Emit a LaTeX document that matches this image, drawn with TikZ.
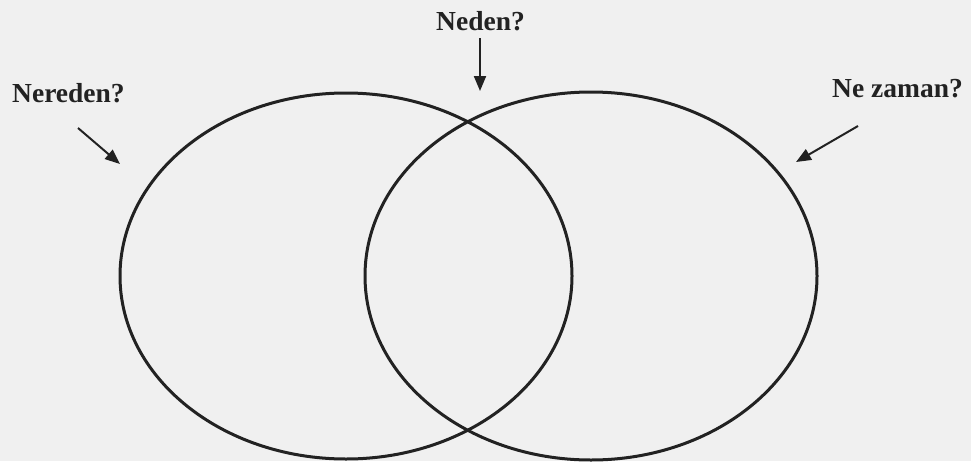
\documentclass[tikz,border=0pt]{standalone}
\usepackage{fontspec}
\setmainfont{Liberation Serif}
\usepackage{tikz}
\usetikzlibrary{arrows.meta}
\usetikzlibrary{positioning}

\definecolor{paper}{HTML}{F0F0F0}
\definecolor{ink}{HTML}{222222}

\begin{document}
\begin{tikzpicture}[x=1pt,y=-1pt]
    \fill[paper] (0,0) rectangle (971,461);
    \useasboundingbox (0,0) rectangle (971,461);

\begin{scope}[every node/.style={font=\bfseries\fontsize{27.5}{31}\selectfont,text=ink,inner sep=0pt}]
    \node[anchor=base west] (where) at (12,102) {Nereden?};
    \node[anchor=base] (why) at (480.5,30) {Neden?};
    \node[anchor=base east] (when) at (963,97) {Ne zaman?};
\end{scope}

\begin{scope}[ink, line width=3pt]
    \draw (346,276) ellipse [x radius=226, y radius=183];
    \draw (591,276) ellipse [x radius=226, y radius=184];
\end{scope}

\begin{scope}
    \coordinate (w1) at (78,128);  \coordinate (w2) at (120,164);
    \coordinate (y1) at (480,38);  \coordinate (y2) at (480,91);
    \coordinate (n1) at (858,126); \coordinate (n2) at (796,162);
\end{scope}

\begin{scope}[every edge/.style={draw,ink,line width=2pt}]
    \foreach \u/\v in {w1/w2, y1/y2, n1/n2}
        \path [-{Triangle[width=12pt,length=15pt]}] (\u) edge (\v);
\end{scope}
\end{tikzpicture}
\end{document}
